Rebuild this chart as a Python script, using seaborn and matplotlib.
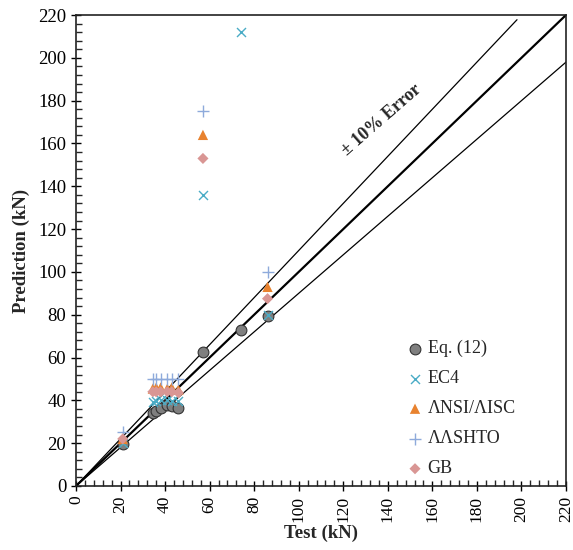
import numpy as np
import pandas as pd
import matplotlib
matplotlib.use("Agg")
import matplotlib.pyplot as plt
import seaborn as sns
from matplotlib.ticker import MultipleLocator

# ---- data ----
test = [21, 34.5, 36, 38, 41, 43, 46, 57, 74, 86]
eq12 = [19.5, 34, 35, 36.5, 38, 37.5, 36.5, 62.5, 73, 79.5]
ec4 = [20, 39, 39.5, 40, 40, 39.5, 39.5, 136, 212, 80]
aisc = [22, 45.5, 46, 46, 45.5, 46, 45, 164, np.nan, 93]
aashto = [25, 50, 50, 50, 50, 50, 50, 175, np.nan, 100]
gb = [22, 44, 44, 44, 44, 44, 43.5, 153, np.nan, 87.5]

labels = ["Eq. (12)", "EC4", "ΛNSI/ΛISC", "ΛΛSHTO", "GB"]
series = [eq12, ec4, aisc, aashto, gb]
colors = ["#7f7f7f", "#4bacc6", "#e8822f", "#8eaadb", "#d99694"]

line_x = [0, 220]
line_x_up = [0, 198]

# ---- figure ----
sns.set_style("white")
plt.rcParams["font.family"] = ["Liberation Serif", "DejaVu Serif"]

fig = plt.figure(figsize=(5.73, 5.5), dpi=100)
ax = fig.add_axes([0.1326, 0.1164, 0.8552, 0.8563])

# reference lines
ax.plot(line_x, line_x, color="black", lw=1.6, zorder=1)
ax.plot(line_x_up, [1.1 * v for v in line_x_up], color="black", lw=0.9, zorder=1)
ax.plot(line_x, [0.9 * v for v in line_x], color="black", lw=0.9, zorder=1)

style = {
    "Eq. (12)": dict(marker="o", s=60, edgecolor="#333333", linewidth=0.8),
    "EC4": dict(marker="x", s=42, linewidth=1.0),
    "ΛNSI/ΛISC": dict(marker="^", s=55, edgecolor="none"),
    "ΛΛSHTO": dict(marker="+", s=65, linewidth=1.0),
    "GB": dict(marker="D", s=32, edgecolor="none"),
}

for lab, vals, col in zip(labels, series, colors):
    df = pd.DataFrame({"Test": test, "Pred": vals}).dropna()
    sns.scatterplot(data=df, x="Test", y="Pred", ax=ax, color=col,
                    label=lab, zorder=3, **style[lab])

ax.set_xlim(0, 220)
ax.set_ylim(0, 220)
ax.xaxis.set_major_locator(MultipleLocator(20))
ax.yaxis.set_major_locator(MultipleLocator(20))
ax.xaxis.set_minor_locator(MultipleLocator(4))
ax.yaxis.set_minor_locator(MultipleLocator(4))
ax.tick_params(which="major", direction="inout", length=7, width=1,
               labelsize=12.5, colors="black")
ax.tick_params(axis="y", which="major", labelsize=13.5)
ax.tick_params(which="minor", direction="in", length=4, width=1)
ax.tick_params(axis="x", which="both", bottom=True, top=False)
ax.tick_params(axis="y", which="both", left=True, right=False)
for lab in ax.get_xticklabels():
    lab.set_rotation(90)

for sp in ax.spines.values():
    sp.set_color("#222222")
    sp.set_linewidth(1.2)

ax.set_xlabel("Test (kN)", fontsize=13.5, fontweight="bold", labelpad=2)
ax.set_ylabel("Prediction (kN)", fontsize=13.5, fontweight="bold", labelpad=6)

ax.text(137, 171, "± 10% Error", fontsize=13, fontweight="bold",
        rotation=41, ha="center", va="center")

ax.legend(loc="upper left", bbox_to_anchor=(0.655, 0.325), frameon=False,
          fontsize=13, labelspacing=0.72, handletextpad=0.1,
          handlelength=1.2, borderaxespad=0)

fig.savefig("out.png", dpi=100)
